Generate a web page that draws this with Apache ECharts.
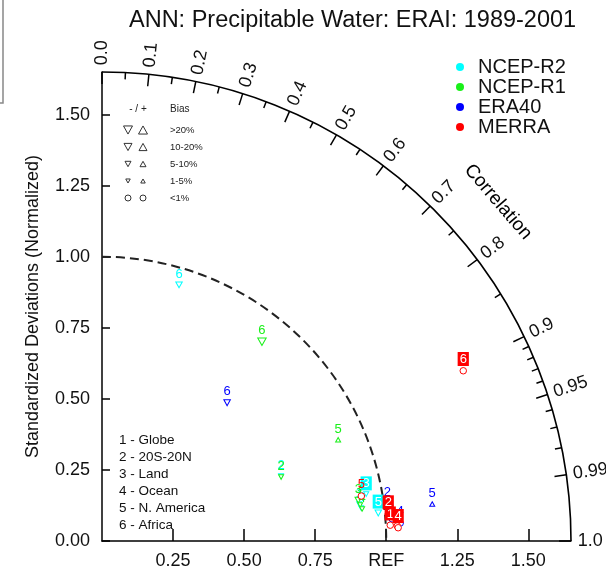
<!DOCTYPE html>
<html>
<head>
<meta charset="utf-8">
<script src="https://cdn.jsdelivr.net/npm/echarts@6/dist/echarts.min.js"></script>
<style>
html,body{margin:0;padding:0;background:#fff;}
#chart{width:606px;height:574px;}
</style>
</head>
<body>
<div id="chart"></div>
<script>
// taylor diagram: std ratio + correlation per region, 4 reanalyses
var FONT = 'Liberation Sans, Arial, sans-serif';
var R = 1.65;

var models = ['NCEP-R2', 'NCEP-R1', 'ERA40', 'MERRA'];
var colors = ['#00ffff', '#19f019', '#0000ff', '#ff0000'];
var regions = ['Globe', '20S-20N', 'Land', 'Ocean', 'N. America', 'Africa'];

// NCEP-R2
var ratioR2 = [0.914, 0.670, 0.944, 0.919, 0.977, 0.941];
var corrR2  = [0.9898, 0.940, 0.9846, 0.992, 0.9949, 0.288];
var biasR2  = [-3, -3, -3, -3, -6, -7];
var boxR2   = [0, 0, 1, 0, 1, 0];
// NCEP-R1
var ratioR1 = [0.917, 0.669, 0.913, 0.922, 0.904, 0.899];
var corrR1  = [0.9904, 0.9418, 0.9875, 0.9925, 0.919, 0.626];
var biasR1  = [-4, -4, -6, -3, 3, -15];
var boxR1   = [0, 0, 0, 0, 0, 0];
// ERA40
var ratioE40 = [1.024, 1.012, 1.018, 1.051, 1.169, 0.656];
var corrE40  = [0.9971, 0.9917, 0.9963, 0.9982, 0.9938, 0.671];
var biasE40  = [0.5, 0.5, 0.5, 0.5, 3, -7];
var boxE40   = [0, 0, 0, 0, 0, 0];
// MERRA
var ratioMR = [1.0156, 1.0115, 1.040, 1.043, 0.926, 1.405];
var corrMR  = [0.9985, 0.9956, 0.9987, 0.9990, 0.9853, 0.9046];
var biasMR  = [0.5, 0.5, 0.5, 0.5, 0.5, 0.5];
var boxMR   = [1, 1, 0, 1, 0, 1];

var corrMajor = [0, 0.1, 0.2, 0.3, 0.4, 0.5, 0.6, 0.7, 0.8, 0.9, 0.95, 0.99, 1.0];
var corrMinor = [0.05, 0.15, 0.25, 0.35, 0.45, 0.55, 0.65, 0.75, 0.85,
                 0.91, 0.92, 0.93, 0.94, 0.96, 0.97, 0.98];

var biasLabels = ['>20%', '10-20%', '5-10%', '1-5%', '<1%'];

function corrLabel(c) {
  if (c === 0 || c === 1) return c.toFixed(1);
  return Math.round(c * 100) % 10 === 0 ? c.toFixed(1) : c.toFixed(2);
}

function toXY(r, c) {
  return [r * c, r * Math.sqrt(1 - c * c)];
}

function markerFor(b) {
  var a = Math.abs(b);
  if (a < 1) return {symbol: 'circle', size: 6.5, rot: 0};
  var s = a > 20 ? 9.5 : a > 10 ? 8.5 : a > 5 ? 6.5 : 5;
  return {symbol: 'triangle', size: [s, s * 0.9], rot: b < 0 ? 180 : 0};
}

function pointSeries(idx, ratio, corr, bias, box) {
  var col = colors[idx];
  return {
    type: 'scatter',
    name: models[idx],
    z: 10 + idx,
    animation: false,
    data: ratio.map(function (r, i) {
      var m = markerFor(bias[i]);
      return {
        value: toXY(r, corr[i]),
        symbol: m.symbol,
        symbolSize: m.size,
        symbolRotate: m.rot,
        label: {
          show: true,
          position: 'top',
          distance: 1,
          formatter: String(i + 1),
          fontSize: 13,
          fontFamily: FONT,
          color: box[i] ? '#fff' : col,
          backgroundColor: box[i] ? col : 'transparent',
          padding: box[i] ? [1, 2, 0, 2] : 0
        }
      };
    }),
    itemStyle: {color: '#fff', borderColor: col, borderWidth: 1, opacity: 1}
  };
}

var tickData = corrMajor.map(function (c) { return [c, 1]; })
  .concat(corrMinor.map(function (c) { return [c, 0]; }));

var chart = echarts.init(document.getElementById('chart'));

var graphics = [
  {type: 'rect', shape: {x: -5, y: -5, width: 8, height: 108},
   style: {fill: 'none', stroke: '#888', lineWidth: 1.5}},
  {type: 'text', x: 498, y: 202, rotation: -0.86,
   style: {text: 'Correlation', font: '19px ' + FONT, fill: '#000', align: 'center', verticalAlign: 'middle'}},
  {type: 'text', x: 138, y: 109,
   style: {text: '- / +', font: '10px ' + FONT, fill: '#222', align: 'center', verticalAlign: 'middle'}},
  {type: 'text', x: 170, y: 109,
   style: {text: 'Bias', font: '10px ' + FONT, fill: '#222', align: 'left', verticalAlign: 'middle'}}
];

var legSizes = [9, 8, 6, 4.5];
biasLabels.forEach(function (t, i) {
  var cy = 130 + i * 17;
  graphics.push({type: 'text', x: 170, y: cy,
    style: {text: t, font: '9.5px ' + FONT, fill: '#222', align: 'left', verticalAlign: 'middle'}});
  if (i < 4) {
    var s = legSizes[i], h = s * 0.45;
    graphics.push({type: 'polygon', shape: {points: [[128 - s / 2, cy - h], [128 + s / 2, cy - h], [128, cy + h]]},
      style: {fill: 'none', stroke: '#333', lineWidth: 1}});
    graphics.push({type: 'polygon', shape: {points: [[143 - s / 2, cy + h], [143 + s / 2, cy + h], [143, cy - h]]},
      style: {fill: 'none', stroke: '#333', lineWidth: 1}});
  } else {
    graphics.push({type: 'circle', shape: {cx: 128, cy: cy, r: 3}, style: {fill: 'none', stroke: '#333', lineWidth: 1}});
    graphics.push({type: 'circle', shape: {cx: 143, cy: cy, r: 3}, style: {fill: 'none', stroke: '#333', lineWidth: 1}});
  }
});

regions.forEach(function (r, i) {
  graphics.push({type: 'text', x: 119, y: 440 + i * 17,
    style: {text: (i + 1) + ' - ' + r, font: '13.5px ' + FONT, fill: '#111', align: 'left', verticalAlign: 'middle'}});
});

chart.setOption({
  animation: false,
  title: {
    text: 'ANN: Precipitable Water: ERAI: 1989-2001',
    left: 124, top: 4,
    textStyle: {fontSize: 23.5, fontWeight: 'normal', color: '#111', fontFamily: FONT}
  },
  legend: {
    orient: 'vertical',
    left: 451, top: 52,
    itemWidth: 8, itemHeight: 8, itemGap: 0,
    textStyle: {fontSize: 20, color: '#111', fontFamily: FONT, lineHeight: 20, padding: [0, 0, 0, 9]},
    data: models.map(function (m, i) {
      return {name: m, icon: 'circle', itemStyle: {color: colors[i], borderWidth: 0}};
    })
  },
  grid: {left: 102, top: 72, width: 469, height: 469},
  xAxis: {
    type: 'value', min: 0, max: R, interval: 0.25,
    axisLine: {lineStyle: {color: '#000', width: 1.5}},
    axisTick: {inside: true, length: 12, lineStyle: {color: '#000', width: 1.5}},
    axisLabel: {
      fontSize: 18, color: '#111', fontFamily: FONT, margin: 11,
      showMinLabel: false, showMaxLabel: false,
      formatter: function (v) { return v === 1 ? 'REF' : v.toFixed(2); }
    },
    splitLine: {show: false}
  },
  yAxis: {
    type: 'value', min: 0, max: R, interval: 0.25,
    name: 'Standardized Deviations (Normalized)',
    nameLocation: 'middle', nameGap: 60,
    nameTextStyle: {fontSize: 18, color: '#111', fontFamily: FONT},
    axisLine: {lineStyle: {color: '#000', width: 1.5}},
    axisTick: {inside: true, length: 8, lineStyle: {color: '#000', width: 1.5}},
    axisLabel: {
      fontSize: 18, color: '#111', fontFamily: FONT, margin: 12,
      showMaxLabel: false,
      formatter: function (v) { return v.toFixed(2); }
    },
    splitLine: {show: false}
  },
  graphic: graphics,
  series: [
    {
      // outer arc, REF circle
      type: 'custom', silent: true, clip: false, z: 3,
      data: [[R, 0, 0], [1, 0, 1]],
      renderItem: function (params, api) {
        var rr = api.value(0), dashed = api.value(2);
        var c0 = api.coord([0, 0]);
        var rad = api.size([rr, 0])[0];
        return {
          type: 'arc',
          shape: {cx: c0[0], cy: c0[1], r: rad, startAngle: -Math.PI / 2, endAngle: 0, clockwise: true},
          style: dashed ? {stroke: '#222', lineWidth: 2, fill: null, lineDash: [9, 5]}
                        : {stroke: '#000', lineWidth: 1.6, fill: null}
        };
      }
    },
    {
      // correlation ticks and labels on the arc
      type: 'custom', silent: true, clip: false, z: 3,
      data: tickData,
      renderItem: function (params, api) {
        var c = api.value(0), major = api.value(1);
        var s = Math.sqrt(1 - c * c);
        var len = major ? 0.042 : 0.024;
        var p1 = api.coord([R * c, R * s]);
        var p2 = api.coord([(R - len) * c, (R - len) * s]);
        var kids = [{
          type: 'line',
          shape: {x1: p1[0], y1: p1[1], x2: p2[0], y2: p2[1]},
          style: {stroke: '#000', lineWidth: 1.5}
        }];
        if (major) {
          var pt = api.coord([(R + 0.024) * c, (R + 0.024) * s]);
          kids.push({
            type: 'text', x: pt[0], y: pt[1], rotation: Math.acos(c),
            style: {text: corrLabel(c), font: '18px ' + FONT, fill: '#111', align: 'left', verticalAlign: 'middle'}
          });
        }
        return {type: 'group', children: kids};
      }
    },
    pointSeries(0, ratioR2, corrR2, biasR2, boxR2),
    pointSeries(2, ratioE40, corrE40, biasE40, boxE40),
    pointSeries(1, ratioR1, corrR1, biasR1, boxR1),
    pointSeries(3, ratioMR, corrMR, biasMR, boxMR)
  ]
});
</script>
</body>
</html>
